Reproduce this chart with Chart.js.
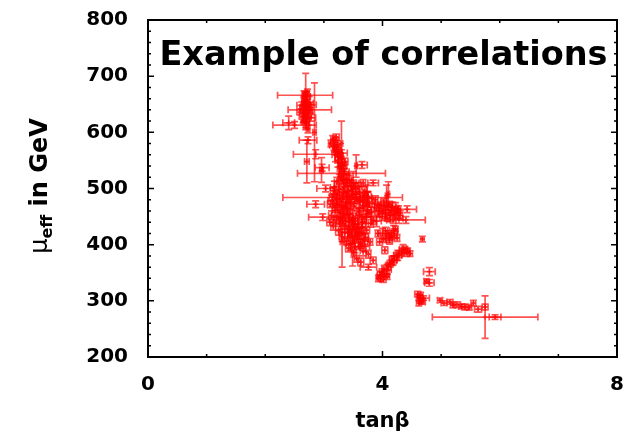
<!DOCTYPE html>
<html>
<head>
<meta charset="utf-8">
<script src="https://cdn.jsdelivr.net/npm/chart.js@4"></script>
<style>
  html, body { margin: 0; padding: 0; background: #fff; }
  #wrap { width: 635px; height: 438px; }
</style>
</head>
<body>
<div id="wrap"><canvas id="chart" width="635" height="438"></canvas></div>
<script>
// --- values (same line layout in all four lists) ---
const tanBeta = [
  2.68, 2.70, 2.66, 2.72, 2.64, 2.69, 2.74, 2.67, 2.71, 2.62, 2.77, 2.70, 2.73, 2.66, 2.72, 2.60, 2.78, 2.69, 2.68, 2.50, 2.40, 2.84, 2.76, 2.65,
  2.67, 2.70, 2.73, 2.65, 2.69, 2.75, 2.71,
  2.73, 2.86, 2.97, 2.96, 2.71, 3.30, 3.32, 2.86, 2.98, 3.10, 4.40, 4.42, 3.30, 4.10, 3.75, 3.31, 3.49, 3.76,
  3.15, 3.20, 3.22, 3.18, 3.25, 3.28, 3.24, 3.30, 3.33, 3.27, 3.35, 3.30, 3.38, 3.45, 3.50, 3.12, 3.21, 3.36, 3.03, 3.15, 3.30, 3.65, 3.55, 3.67, 3.73, 4.07, 3.84,
  3.17, 3.23, 3.26, 3.31, 3.34, 3.40, 3.20,
  3.22, 3.29, 3.36, 3.43, 3.51, 3.58,
  3.16, 3.23, 3.31, 3.39, 3.46, 3.55, 3.62, 3.70,
  3.11, 3.19, 3.27, 3.34, 3.42, 3.50, 3.57, 3.66, 3.74, 3.82, 3.90,
  3.13, 3.21, 3.28, 3.37, 3.45, 3.53, 3.61, 3.69, 3.77, 3.85,
  3.16, 3.25, 3.33, 3.41, 3.49, 3.57, 3.65, 3.73, 3.80,
  3.31, 3.39, 3.47, 3.55, 3.63, 3.71, 3.79,
  3.42, 3.51, 3.59, 3.67, 3.76,
  3.56, 3.63,
  3.40, 3.48, 3.36, 3.52, 3.60, 3.44, 3.28, 3.56,
  3.18, 3.26, 3.34, 3.41, 3.48, 3.54, 3.61, 3.68, 3.75,
  3.14, 3.22, 3.30, 3.38, 3.46, 3.53, 3.60, 3.67, 3.74, 3.81,
  3.20, 3.28, 3.35, 3.43, 3.50, 3.58, 3.66, 3.72,
  3.35, 3.42, 3.49, 3.57, 3.64, 3.70,
  3.45, 3.53, 3.61, 3.69,
  3.24, 3.32, 3.40,
  3.92, 3.98, 4.05, 4.10, 4.15, 4.20, 4.25, 4.30, 4.00, 4.08, 4.18, 3.95, 4.12, 4.27, 3.88, 4.02,
  4.05, 4.10, 4.15, 4.20, 4.25, 4.12, 4.02, 4.22, 3.92, 3.95,
  3.93, 3.96, 3.99, 4.01, 4.03, 4.06, 4.10, 4.13, 4.16, 4.20, 4.24, 4.28, 4.33, 4.38, 4.43, 4.47, 4.08, 4.04, 3.84,
  3.94, 4.03, 4.13, 4.22, 4.28, 3.90, 4.06, 4.17,
  3.97, 4.08, 4.18, 4.26, 4.35, 4.41,
  4.00, 4.11, 4.19,
  4.68, 4.80, 4.80, 4.75, 4.60, 4.63, 4.66, 4.62, 4.68, 4.65, 4.70,
  4.98, 5.05, 5.15, 5.20, 5.27, 5.35, 5.41, 5.48, 5.55, 5.63, 5.75, 5.75, 5.92
];
const muEff = [
  650, 640, 656, 645, 641, 661, 634, 630, 624, 648, 649, 615, 606, 668, 672, 636, 626, 655, 666, 613, 617, 600, 640, 622,
  645, 658, 638, 628, 618, 652, 664,
  586, 561, 537, 533, 548, 527, 484, 472, 449, 440, 444, 463, 580, 490, 472, 405, 403, 360,
  588, 582, 575, 570, 565, 558, 550, 545, 540, 535, 530, 522, 518, 510, 505, 580, 592, 548, 500, 485, 563, 542, 540, 510, 488, 487, 510,
  577, 568, 556, 542, 526, 515, 560,
  512, 516, 508, 514, 509, 503,
  496, 489, 494, 486, 498, 490, 484, 495,
  472, 466, 477, 463, 475, 468, 479, 470, 462, 474, 466,
  452, 444, 457, 448, 455, 442, 451, 446, 456, 443,
  433, 425, 437, 428, 436, 422, 431, 426, 438,
  414, 406, 417, 409, 402, 413, 405,
  394, 386, 397, 389, 383,
  375, 369,
  460, 445, 470, 430, 460, 420, 445, 415,
  502, 498, 503, 495, 489, 500, 493, 480, 486,
  478, 482, 470, 481, 472, 484, 465, 476, 483, 458,
  461, 437, 452, 441, 447, 436, 440, 449,
  422, 432, 412, 428, 418, 397,
  402, 396, 421, 410,
  472, 455, 486,
  470, 465, 462, 468, 460, 455, 458, 452, 450, 448, 445, 455, 472, 463, 480, 476,
  425, 418, 415, 420, 412, 408, 410, 428, 420, 405,
  340, 346, 351, 338, 356, 348, 361, 366, 371, 374, 379, 383, 387, 391, 389, 384, 343, 390, 372,
  460, 470, 452, 465, 447, 442, 457, 467,
  343, 356, 372, 381, 392, 386,
  420, 412, 425,
  410, 352, 332, 335, 312, 305, 300, 296, 298, 310, 305,
  301, 296, 298, 292, 293, 290, 289, 288, 296, 285, 289, 271, 271
];
const tanBetaErr = [
  .04, .05, .04, .06, .05, .03, .05, .04, .05, .08, .10, .04, .03, .03, .03, .06, .08, .02, .47, .37, .10, .03, .37, .04,
  .07, .06, .08, .07, .06, .07, .06,
  .15, .38, .12, .03, .04, .75, 1.02, .15, .24, .05, .33, .16, .02, .02, .03, .03, .02, .14,
  .03, .04, .05, .03, .06, .04, .05, .05, .06, .04, .08, .05, .06, .15, .04, .04, .05, .05, .15, .06, .10, .09, .02, .04, .02, .02, .09,
  .07, .06, .07, .06, .08, .07, .06,
  .04, .05, .03, .05, .04, .06,
  .05, .04, .06, .05, .04, .05, .06, .04,
  .05, .04, .06, .05, .04, .06, .05, .04, .06, .05, .04,
  .05, .04, .05, .06, .04, .05, .06, .04, .05, .04,
  .04, .05, .06, .04, .05, .04, .06, .05, .04,
  .05, .04, .06, .05, .04, .05, .04,
  .05, .04, .06, .05, .04,
  .04, .05,
  .03, .03, .03, .03, .03, .03, .03, .03,
  .07, .08, .06, .07, .08, .06, .07, .08, .06,
  .07, .06, .08, .07, .06, .08, .07, .06, .08, .07,
  .06, .08, .07, .06, .08, .07, .06, .08,
  .07, .06, .08, .07, .06, .08,
  .07, .08, .06, .07,
  .06, .07, .08,
  .05, .04, .05, .04, .05, .04, .05, .04, .05, .04, .05, .04, .05, .04, .04, .05,
  .04, .05, .04, .05, .04, .05, .04, .04, .04, .05,
  .04, .05, .04, .05, .04, .05, .04, .05, .04, .05, .04, .05, .04, .05, .04, .04, .04, .05, .05,
  .08, .07, .08, .06, .07, .08, .06, .07,
  .06, .07, .06, .07, .06, .05,
  .07, .06, .07,
  .03, .10, .08, .04, .05, .05, .04, .04, .05, .04, .10,
  .04, .05, .05, .04, .06, .05, .06, .04, .04, .06, .05, .90, .10
];
const muEffErr = [
  8, 10, 8, 6, 7, 9, 8, 10, 7, 6, 5, 8, 7, 6, 5, 5, 6, 50, 6, 6, 12, 88, 5, 6,
  10, 9, 11, 10, 9, 12, 9,
  6, 8, 6, 22, 38, 8, 8, 6, 6, 6, 6, 6, 40, 22, 22, 45, 41, 5,
  6, 8, 10, 5, 8, 6, 12, 8, 7, 10, 6, 8, 9, 6, 25, 6, 5, 6, 6, 5, 6, 6, 20, 6, 18, 19, 5,
  9, 10, 9, 11, 9, 10, 12,
  8, 6, 7, 9, 6, 8,
  7, 9, 6, 8, 7, 9, 6, 8,
  6, 8, 9, 7, 10, 8, 6, 9, 7, 8, 6,
  8, 7, 9, 6, 8, 10, 7, 8, 6, 7,
  7, 8, 9, 6, 8, 7, 9, 6, 7,
  8, 7, 9, 6, 8, 7, 6,
  7, 8, 6, 9, 7,
  6, 7,
  5, 5, 5, 5, 5, 5, 5, 5,
  11, 10, 12, 9, 13, 10, 11, 12, 9,
  10, 12, 11, 13, 9, 10, 12, 11, 10, 9,
  12, 10, 11, 13, 9, 12, 10, 11,
  11, 12, 10, 9, 13, 10,
  12, 10, 11, 9,
  10, 12, 11,
  6, 8, 7, 6, 8, 7, 6, 8, 7, 6, 7, 6, 5, 6, 7, 6,
  6, 7, 6, 8, 6, 7, 6, 5, 6, 6,
  6, 7, 6, 5, 7, 6, 7, 6, 8, 6, 7, 6, 7, 6, 5, 5, 5, 6, 6,
  10, 9, 11, 10, 9, 10, 11, 9,
  8, 9, 8, 9, 8, 7,
  9, 8, 9,
  5, 7, 6, 4, 5, 6, 5, 5, 4, 5, 4,
  4, 4, 4, 4, 5, 4, 5, 4, 5, 5, 5, 38, 4
];

const xMajorTicks = [0, 4, 8];
const chartTitle = 'Example of correlations';
const FONT = '"DejaVu Sans", sans-serif';
const RED = 'rgba(255, 0, 0, 0.68)';

// error bars drawn from the data through the chart's scales
const errorBars = {
  id: 'errorBars',
  afterDatasetsDraw(chart) {
    const { ctx, chartArea: a, scales: { x, y } } = chart;
    const cap = 3.5;
    ctx.save();
    ctx.beginPath();
    ctx.rect(a.left, a.top, a.right - a.left, a.bottom - a.top);
    ctx.clip();
    ctx.strokeStyle = RED;
    ctx.lineWidth = 1.7;
    tanBeta.forEach((tb, i) => {
      const px = x.getPixelForValue(tb), py = y.getPixelForValue(muEff[i]);
      const x0 = x.getPixelForValue(tb - tanBetaErr[i]), x1 = x.getPixelForValue(tb + tanBetaErr[i]);
      const y0 = y.getPixelForValue(muEff[i] - muEffErr[i]), y1 = y.getPixelForValue(muEff[i] + muEffErr[i]);
      ctx.beginPath();
      ctx.moveTo(x0, py); ctx.lineTo(x1, py);
      ctx.moveTo(x0, py - cap); ctx.lineTo(x0, py + cap);
      ctx.moveTo(x1, py - cap); ctx.lineTo(x1, py + cap);
      ctx.moveTo(px, y0); ctx.lineTo(px, y1);
      ctx.moveTo(px - cap, y0); ctx.lineTo(px + cap, y0);
      ctx.moveTo(px - cap, y1); ctx.lineTo(px + cap, y1);
      ctx.stroke();
    });
    ctx.restore();
  }
};

// box, inward ticks, title inside the plot, y axis label with subscript
const frame = {
  id: 'frame',
  afterDraw(chart) {
    const { ctx, chartArea: a, scales: { x, y } } = chart;
    ctx.save();
    ctx.strokeStyle = '#000';
    ctx.lineWidth = 1.5;
    ctx.beginPath();
    for (let v = 0; v <= 8; v++) {
      const px = x.getPixelForValue(v);
      const len = xMajorTicks.includes(v) ? 6 : 3;
      ctx.moveTo(px, a.bottom); ctx.lineTo(px, a.bottom - len);
      ctx.moveTo(px, a.top); ctx.lineTo(px, a.top + len);
    }
    for (let v = 200; v <= 800; v += 20) {
      const py = y.getPixelForValue(v);
      const len = v % 100 === 0 ? 6 : 3;
      ctx.moveTo(a.left, py); ctx.lineTo(a.left + len, py);
      ctx.moveTo(a.right, py); ctx.lineTo(a.right - len, py);
    }
    ctx.stroke();
    ctx.lineWidth = 2;
    ctx.strokeRect(a.left, a.top, a.right - a.left, a.bottom - a.top);

    // title
    ctx.fillStyle = '#000';
    ctx.font = 'bold 33.5px ' + FONT;
    ctx.textAlign = 'center';
    ctx.textBaseline = 'alphabetic';
    ctx.fillText(chartTitle, (a.left + a.right) / 2 + 1, 65);

    // y label: μ_eff in GeV
    ctx.translate(41, 186);
    ctx.rotate(-Math.PI / 2);
    ctx.textAlign = 'left';
    const fMu = '24px ' + FONT, fSub = 'bold 16px ' + FONT, fRest = 'bold 24px ' + FONT;
    ctx.font = fMu; const wMu = ctx.measureText('μ').width;
    ctx.font = fSub; const wSub = ctx.measureText('eff').width;
    ctx.font = fRest; const wRest = ctx.measureText(' in GeV').width;
    let cx = -(wMu + wSub + wRest) / 2;
    ctx.textBaseline = 'middle';
    ctx.font = fMu; ctx.fillText('μ', cx, 0); cx += wMu;
    ctx.font = fSub; ctx.fillText('eff', cx, 7); cx += wSub;
    ctx.font = fRest; ctx.fillText(' in GeV', cx, 0);
    ctx.restore();
  }
};

new Chart(document.getElementById('chart').getContext('2d'), {
  type: 'scatter',
  data: {
    datasets: [{
      data: tanBeta.map((tb, i) => ({ x: tb, y: muEff[i] })),
      pointStyle: 'cross',
      pointRadius: 2.5,
      borderColor: RED,
      backgroundColor: RED,
      borderWidth: 1.4
    }]
  },
  options: {
    responsive: false,
    animation: false,
    layout: { padding: { top: 20, right: 18, left: 0, bottom: 0 } },
    plugins: { legend: { display: false }, tooltip: { enabled: false } },
    scales: {
      x: {
        type: 'linear', min: 0, max: 8,
        grid: { display: false, drawTicks: false },
        border: { display: false },
        ticks: { stepSize: 4, padding: 16, color: '#000', font: { family: FONT, size: 20, weight: 'bold' } },
        title: { display: true, text: 'tanβ', color: '#000', padding: { top: 0, bottom: 4 }, font: { family: FONT, size: 21, weight: 'bold' } },
        afterFit: s => { s.height = 81; s.paddingLeft = 0; s.paddingRight = 0; }
      },
      y: {
        type: 'linear', min: 200, max: 800,
        grid: { display: false, drawTicks: false },
        border: { display: false },
        ticks: { stepSize: 100, padding: 20, color: '#000', font: { family: FONT, size: 20, weight: 'bold' } },
        afterFit: s => { s.width = 148; s.paddingTop = 0; s.paddingBottom = 0; }
      }
    }
  },
  plugins: [errorBars, frame]
});
</script>
</body>
</html>
